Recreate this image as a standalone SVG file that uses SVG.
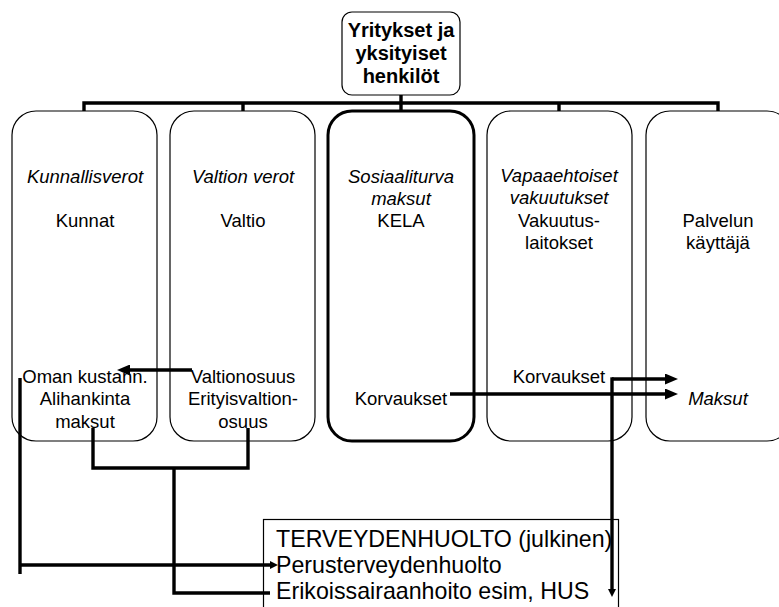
<svg xmlns="http://www.w3.org/2000/svg" width="779" height="607" viewBox="0 0 779 607">
<style>
text{font-family:"Liberation Sans",Arial,sans-serif;fill:#000}
.t{font-size:18.5px;text-anchor:middle}
.i{font-style:italic}
.b{font-size:20px;font-weight:bold;text-anchor:middle}
.h{font-size:23.2px}
.box{fill:#fff;stroke:#000;stroke-width:1.2}
.thick{stroke-width:3}
.ln{fill:none;stroke:#000;stroke-width:3.4}
</style>
<defs>
<marker id="ar" markerUnits="userSpaceOnUse" markerWidth="13" markerHeight="11" refX="0" refY="5.5" orient="auto"><path d="M0,0 L13,5.5 L0,11 z" fill="#000"/></marker>
<marker id="ars" markerUnits="userSpaceOnUse" markerWidth="8" markerHeight="8" refX="0" refY="4" orient="auto"><path d="M0,0 L8,4 L0,8 z" fill="#000"/></marker>
</defs>
<g id="connectors">
<path class="ln" d="M401,95 V103 M84,111 V103 H718 V111 M243,103 V111 M401,103 V111 M559,103 V111"/>
</g>
<g id="top"><rect class="box" x="342" y="12" width="118" height="83" rx="10" stroke-width="1.5"/>
<text class="b" x="401" y="37">Yritykset ja</text><text class="b" x="401" y="60">yksityiset</text><text class="b" x="401" y="83">henkilöt</text></g>
<g id="kunnat"><rect class="box" x="12" y="111" width="145" height="330" rx="24"/>
<text class="t i" x="85" y="183">Kunnallisverot</text><text class="t" x="85" y="227">Kunnat</text>
<text class="t" x="85" y="383">Oman kustann.</text><text class="t" x="85" y="405">Alihankinta</text><text class="t" x="85" y="428">maksut</text></g>
<g id="valtio"><rect class="box" x="170" y="111" width="145" height="330" rx="24"/>
<text class="t i" x="243" y="183">Valtion verot</text><text class="t" x="243" y="227">Valtio</text>
<text class="t" x="243" y="383">Valtionosuus</text><text class="t" x="243" y="405">Erityisvaltion-</text><text class="t" x="243" y="428">osuus</text></g>
<g id="kela"><rect class="box thick" x="328" y="111" width="146" height="330" rx="24"/>
<text class="t i" x="401" y="183">Sosiaaliturva</text><text class="t i" x="401" y="205">maksut</text><text class="t" x="401" y="227">KELA</text>
<text class="t" x="401" y="405">Korvaukset</text></g>
<g id="vakuutus"><rect class="box" x="487" y="111" width="145" height="330" rx="24"/>
<text class="t i" x="559" y="182">Vapaaehtoiset</text><text class="t i" x="559" y="204">vakuutukset</text><text class="t" x="559" y="227">Vakuutus-</text><text class="t" x="559" y="249">laitokset</text>
<text class="t" x="559" y="383">Korvaukset</text></g>
<g id="kayttaja"><rect class="box" x="646" y="111" width="145" height="330" rx="24"/>
<text class="t" x="718" y="227">Palvelun</text><text class="t" x="718" y="249">käyttäjä</text>
<text class="t i" x="718" y="405">Maksut</text></g>
<g id="terveys"><rect class="box" x="263.5" y="519.5" width="355" height="100"/>
<text class="h" x="276" y="547">TERVEYDENHUOLTO (julkinen)</text>
<text class="h" x="276" y="573">Perusterveydenhuolto</text>
<text class="h" x="276" y="599">Erikoissairaanhoito esim, HUS</text></g>
<g id="arrows">
<path class="ln" d="M192,370 H130" marker-end="url(#ar)"/>
<path class="ln" d="M450,394 H665" marker-end="url(#ar)"/>
<path class="ln" d="M612,379 H665" marker-end="url(#ar)"/>
<path class="ln" d="M612,377.3 V589" marker-end="url(#ars)"/>
<path class="ln" d="M20,378 V574"/>
<path class="ln" d="M20,565 H270" marker-end="url(#ars)"/>
<path class="ln" d="M93,428 V468 H248 V428 M174,468 V593 H270"/>
</g>
</svg>
